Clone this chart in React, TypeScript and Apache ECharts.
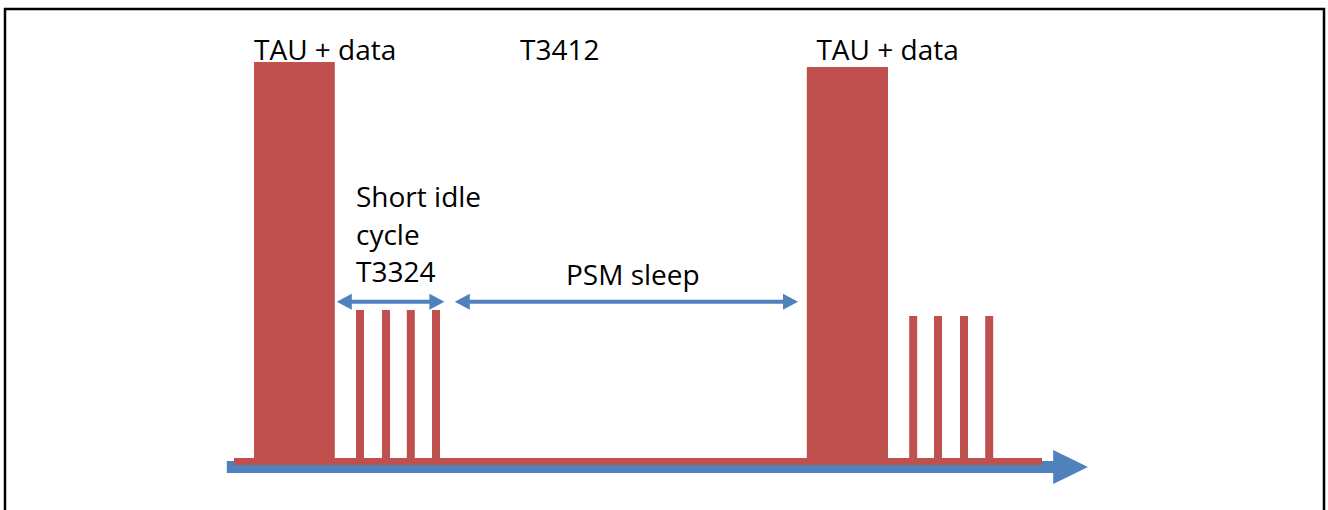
import React, { useEffect, useRef } from "react";
import * as echarts from "echarts";

const RED = "#C0504D";
const BLUE = "#4F81BD";

// Time runs along x (arbitrary units), radio activity level along y.
const burstStart = [2.5, 71.6];
const burstEnd = [12.6, 81.75];
const burstLevel = [100.75, 99.5];

const pulseStart = [15.25, 18.5, 21.6, 24.75, 84.4, 87.5, 90.75, 93.9];
const pulseEnd = [16.25, 19.5, 22.6, 25.75, 85.4, 88.5, 91.75, 94.9];
const pulseLevel = [38.75, 38.75, 38.75, 38.75, 37.25, 37.25, 37.25, 37.25];

const baselineStart = [0];
const baselineEnd = [101];
const baselineLevel = [1.75];

// time axis arrow: start, shaft end, tip
const timeAxisStart = [-0.9];
const timeAxisShaftEnd = [102.4];
const timeAxisTip = [106.75];
const timeAxisLevel = [-0.5];

const spanNames = ["T3324", "PSM sleep"];
const spanStart = [12.85, 27.6];
const spanEnd = [26.3, 70.5];
const spanLevel = [40.8, 40.8];

const labelTexts = ["TAU + data", "T3412", "TAU + data", "Short idle\ncycle\nT3324", "PSM sleep"];
const labelX = [2.5, 35.75, 72.8, 15.25, 41.5];
const labelY = [104.0, 104.0, 104.0, 57.8, 47.85];

function rectBetween(api: any, x0: number, x1: number, y0: number, y1: number, color: string) {
  const a = api.coord([x0, y1]);
  const b = api.coord([x1, y0]);
  return {
    type: "rect",
    shape: { x: a[0], y: a[1], width: b[0] - a[0], height: b[1] - a[1] },
    style: { fill: color },
  };
}

export default function App() {
  const ref = useRef<HTMLDivElement>(null);

  useEffect(() => {
    document.body.style.margin = "0";
    if (!ref.current) return;
    const chart = echarts.init(ref.current, undefined, { renderer: "svg" });

    const option: any = {
      animation: false,
      backgroundColor: "#ffffff",
      grid: { left: 234, top: 61, width: 808, height: 404 },
      xAxis: { type: "value", min: 0, max: 101, show: false },
      yAxis: { type: "value", min: 0, max: 101, show: false },
      graphic: [
        {
          type: "rect",
          shape: { x: 5, y: 9, width: 1319, height: 520 },
          style: { fill: "none", stroke: "#000000", lineWidth: 2.5 },
          silent: true,
        },
      ],
      series: [
        {
          name: "time",
          type: "custom",
          clip: false,
          data: timeAxisStart.map((s, i) => [s, timeAxisShaftEnd[i], timeAxisTip[i], timeAxisLevel[i]]),
          renderItem: (params: any, api: any) => {
            const a = api.coord([api.value(0), api.value(3)]);
            const b = api.coord([api.value(1), api.value(3)]);
            const t = api.coord([api.value(2), api.value(3)]);
            return {
              type: "group",
              children: [
                {
                  type: "rect",
                  shape: { x: a[0], y: a[1] - 6, width: b[0] - a[0] + 1, height: 12 },
                  style: { fill: BLUE },
                },
                {
                  type: "polygon",
                  shape: { points: [[b[0], b[1] - 17], [t[0], t[1]], [b[0], b[1] + 17]] },
                  style: { fill: BLUE },
                },
              ],
            };
          },
        },
        {
          name: "baseline",
          type: "custom",
          clip: false,
          data: baselineStart.map((s, i) => [s, baselineEnd[i], baselineLevel[i]]),
          renderItem: (params: any, api: any) =>
            rectBetween(api, api.value(0), api.value(1), 0, api.value(2), RED),
        },
        {
          name: "TAU + data",
          type: "custom",
          clip: false,
          data: burstStart.map((s, i) => [s, burstEnd[i], burstLevel[i]]),
          renderItem: (params: any, api: any) =>
            rectBetween(api, api.value(0), api.value(1), 0, api.value(2), RED),
        },
        {
          name: "paging",
          type: "custom",
          clip: false,
          data: pulseStart.map((s, i) => [s, pulseEnd[i], pulseLevel[i]]),
          renderItem: (params: any, api: any) =>
            rectBetween(api, api.value(0), api.value(1), 0, api.value(2), RED),
        },
        {
          name: "spans",
          type: "custom",
          clip: false,
          data: spanNames.map((n, i) => ({ name: n, value: [spanStart[i], spanEnd[i], spanLevel[i]] })),
          renderItem: (params: any, api: any) => {
            const a = api.coord([api.value(0), api.value(2)]);
            const b = api.coord([api.value(1), api.value(2)]);
            const hl = 15;
            const hh = 8;
            return {
              type: "group",
              children: [
                {
                  type: "rect",
                  shape: { x: a[0] + hl - 1, y: a[1] - 2, width: b[0] - a[0] - 2 * hl + 2, height: 4 },
                  style: { fill: BLUE },
                },
                {
                  type: "polygon",
                  shape: { points: [[a[0], a[1]], [a[0] + hl, a[1] - hh], [a[0] + hl, a[1] + hh]] },
                  style: { fill: BLUE },
                },
                {
                  type: "polygon",
                  shape: { points: [[b[0], b[1]], [b[0] - hl, b[1] - hh], [b[0] - hl, b[1] + hh]] },
                  style: { fill: BLUE },
                },
              ],
            };
          },
        },
        {
          name: "labels",
          type: "custom",
          clip: false,
          data: labelX.map((x, i) => [x, labelY[i]]),
          renderItem: (params: any, api: any) => {
            const p = api.coord([api.value(0), api.value(1)]);
            return {
              type: "text",
              x: p[0],
              y: p[1],
              style: {
                text: labelTexts[params.dataIndex],
                fontFamily: "Open Sans",
                fontSize: 28,
                lineHeight: 37.5,
                fill: "#000000",
                align: "left",
                verticalAlign: "middle",
              },
            };
          },
        },
      ],
    };

    chart.setOption(option);
    return () => {
      chart.dispose();
    };
  }, []);

  return <div ref={ref} style={{ width: 1328, height: 510 }} />;
}
